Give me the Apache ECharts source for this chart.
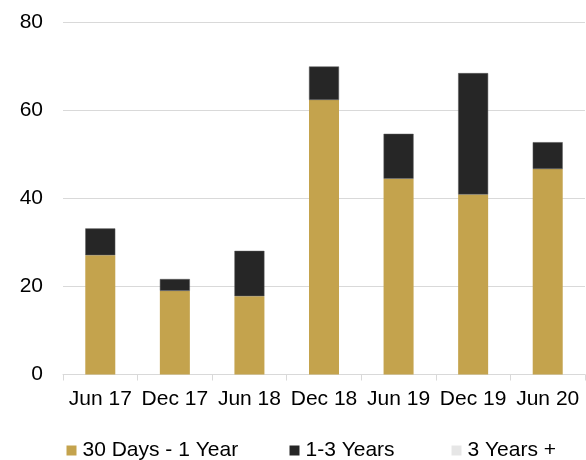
<!DOCTYPE html>
<html>
<head>
<meta charset="utf-8">
<script src="https://cdn.jsdelivr.net/npm/echarts@6/dist/echarts.min.js"></script>
<style>
  html, body { margin: 0; padding: 0; background: #fff; }
  #chart { width: 586px; height: 460px; }
</style>
</head>
<body>
<div id="chart"></div>
<script>
// periods on the x axis
var categories = ['Jun 17', 'Dec 17', 'Jun 18', 'Dec 18', 'Jun 19', 'Dec 19', 'Jun 20'];
// stacked values
var shortTerm = [27.1, 19.0, 17.8, 62.4, 44.5, 40.9, 46.7];
var midTerm = [6.1, 2.7, 10.3, 7.6, 10.2, 27.6, 6.1];
var longTerm = [0, 0, 0, 0, 0, 0, 0];
var yTicks = [0, 20, 40, 60, 80];

var font = 'Liberation Sans, Arial, sans-serif';
var chart = echarts.init(document.getElementById('chart'));

function legendAt(name, left) {
    return {
        data: [name],
        left: left,
        top: 440,
        padding: 0,
        itemWidth: 10,
        itemHeight: 10,
        itemGap: 5,
        icon: 'rect',
        itemStyle: { borderWidth: 0 },
        textStyle: { fontFamily: font, fontSize: 21, color: '#000', padding: [0, 0, 0, 1] }
    };
}

chart.setOption({
    backgroundColor: '#fff',
    animation: false,
    legend: [
        legendAt('30 Days - 1 Year', 66.5),
        legendAt('1-3 Years', 289.5),
        legendAt('3 Years +', 451.5)
    ],
    grid: { left: 63, right: 1, top: 22.5, bottom: 85.5 },
    xAxis: {
        type: 'category',
        data: categories,
        axisLine: { lineStyle: { color: '#d9d9d9', width: 1 } },
        axisTick: { show: true, interval: 0, length: 6, lineStyle: { color: '#d9d9d9' } },
        axisLabel: { interval: 0, fontFamily: font, fontSize: 21, color: '#000', margin: 14 }
    },
    yAxis: {
        type: 'value',
        min: yTicks[0],
        max: yTicks[yTicks.length - 1],
        interval: 20,
        axisLine: { show: false },
        axisTick: { show: false },
        splitLine: { lineStyle: { color: '#d9d9d9', width: 1 } },
        axisLabel: { fontFamily: font, fontSize: 21, color: '#000', margin: 20 }
    },
    series: [
        {
            name: '30 Days - 1 Year',
            type: 'bar',
            stack: 'total',
            barWidth: 30,
            itemStyle: { color: '#c4a34d' },
            data: shortTerm
        },
        {
            name: '1-3 Years',
            type: 'bar',
            stack: 'total',
            barWidth: 30,
            itemStyle: { color: '#262626', borderColor: '#595959', borderWidth: 0.5 },
            data: midTerm
        },
        {
            name: '3 Years +',
            type: 'bar',
            stack: 'total',
            barWidth: 30,
            itemStyle: { color: '#e6e6e6' },
            data: longTerm
        }
    ]
});
</script>
</body>
</html>
